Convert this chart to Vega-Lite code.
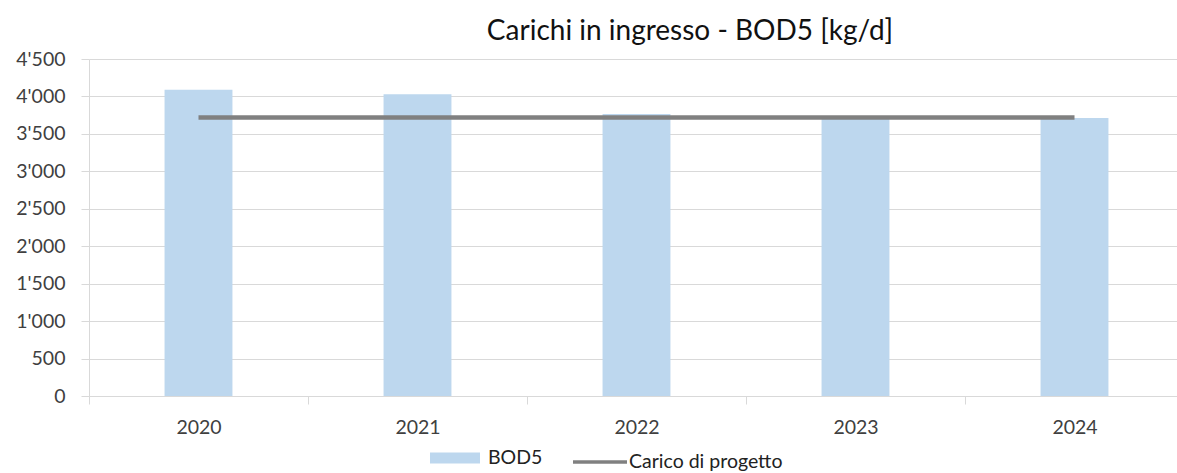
{
  "$schema": "https://vega.github.io/schema/vega-lite/v6.json",
  "autosize": "none",
  "width": 1088,
  "height": 337,
  "padding": {"left": 89, "top": 59, "right": 0, "bottom": 77},
  "background": "white",
  "title": {
    "text": "Carichi in ingresso - BOD5 [kg/d]",
    "font": "Lato",
    "fontSize": 28,
    "fontWeight": "normal",
    "color": "#111111",
    "anchor": "middle",
    "frame": "group",
    "dx": 57,
    "baseline": "alphabetic",
    "offset": -19
  },
  "config": {
    "view": {"stroke": null},
    "font": "Lato",
    "axisY": {
      "title": null,
      "values": [0, 500, 1000, 1500, 2000, 2500, 3000, 3500, 4000, 4500],
      "labelExpr": "replace(format(datum.value, ','), ',', \"'\")",
      "labelOverlap": false,
      "labelBound": false,
      "labelFlush": false,
      "grid": true,
      "gridColor": "#d9d9d9",
      "gridWidth": 1,
      "tickSize": 8,
      "tickColor": "#d9d9d9",
      "domainColor": "#d9d9d9",
      "labelFont": "Lato",
      "labelFontSize": 19.5,
      "labelColor": "#404040",
      "labelPadding": 16
    }
  },
  "data": {
    "values": [
      {"anno": "2020", "BOD5": 4090, "progetto": 3720},
      {"anno": "2021", "BOD5": 4030, "progetto": 3720},
      {"anno": "2022", "BOD5": 3765, "progetto": 3720},
      {"anno": "2023", "BOD5": 3705, "progetto": 3720},
      {"anno": "2024", "BOD5": 3712, "progetto": 3720}
    ]
  },
  "encoding": {
    "x": {
      "field": "anno",
      "type": "nominal",
      "scale": {"type": "band", "paddingInner": 0, "paddingOuter": 0, "range": [0, 1095]},
      "axis": {
        "title": null,
        "labelAngle": 0,
        "tickBand": "extent",
        "tickSize": 8,
        "tickColor": "#d9d9d9",
        "domainColor": "#d9d9d9",
        "labelFont": "Lato",
        "labelFontSize": 19.5,
        "labelColor": "#404040",
        "labelPadding": 14,
        "grid": false
      }
    }
  },
  "layer": [
    {
      "mark": {"type": "bar", "width": {"band": 0.31}},
      "encoding": {
        "y": {
          "field": "BOD5",
          "type": "quantitative",
          "scale": {"domain": [0, 4500], "nice": false},
          "axis": {
            "values": [0, 500, 1000, 1500, 2000, 2500, 3000, 3500, 4000, 4500],
            "labelOverlap": false
          }
        },
        "fill": {
          "datum": "BOD5",
          "type": "nominal",
          "scale": {"domain": ["BOD5"], "range": ["#BDD7EE"]},
          "legend": {
            "title": null,
            "orient": "none",
            "legendX": 341,
            "legendY": 374,
            "padding": 0,
            "symbolType": "M-1,-0.22H1V0.22H-1Z",
            "symbolSize": 2500,
            "symbolStrokeWidth": 0,
            "labelOffset": 8,
            "labelBaseline": "middle",
            "labelFont": "Lato",
            "labelFontSize": 19.5,
            "labelColor": "#222222"
          }
        }
      }
    },
    {
      "mark": {"type": "line", "strokeWidth": 4.5},
      "encoding": {
        "y": {
          "field": "progetto",
          "type": "quantitative",
          "scale": {"domain": [0, 4500], "nice": false},
          "axis": {
            "values": [0, 500, 1000, 1500, 2000, 2500, 3000, 3500, 4000, 4500],
            "labelOverlap": false
          }
        },
        "stroke": {
          "datum": "Carico di progetto",
          "type": "nominal",
          "scale": {"domain": ["Carico di progetto"], "range": ["#808080"]},
          "legend": {
            "title": null,
            "orient": "none",
            "legendX": 482,
            "legendY": 374,
            "padding": 0,
            "symbolType": "stroke",
            "symbolSize": 2916,
            "symbolStrokeWidth": 3.5,
            "labelOffset": 0,
            "labelBaseline": "middle",
            "labelFont": "Lato",
            "labelFontSize": 19.5,
            "labelColor": "#222222"
          }
        }
      }
    }
  ]
}
